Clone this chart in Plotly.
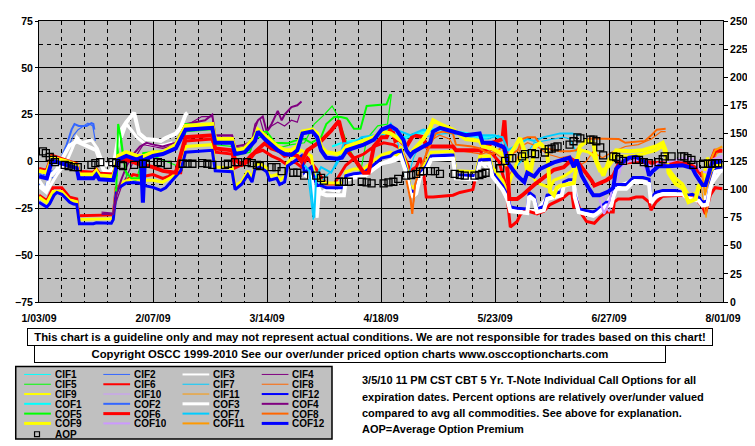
import pandas as pd
import plotly.graph_objects as go

START = "2009-01-03"
END = "2009-08-01"

# ---------------- data: (days after 1/03/09, percent) ----------------
CIF1 = [(96, 10), (100, 11), (104, 13), (108, 14), (112, 12), (116, 14), (120, 16), (124, 17), (128, 15), (132, 14), (136, 12), (140, 13)]
COF1 = [(90, 8), (93, 10), (96, 11), (100, 12), (104, 14), (108, 15), (112, 13), (116, 15), (120, 17), (124, 18), (128, 16), (132, 15), (136, 13), (140, 14), (142, 11)]
CIF2 = [(0, -12), (1.5, -15), (3, -8), (4.6, -9), (6, -4), (7.6, 3), (9.1, 8), (10.6, 14), (12, 17), (13.5, 19), (15, 20.5), (16.5, 19), (17.3, 11)]
COF2 = [(0, -6), (1.2, -8), (2.4, -4), (3.6, -5), (4.9, -6), (6.1, -3), (7.3, 4), (8.5, 9), (10, 17), (10.9, 20), (12.2, 19), (14.6, 19), (16.1, 20.5), (16.7, 20), (17, 17)]
CIF3 = [(0, -10), (2.4, -16), (5.5, -7), (8.5, 0), (10, 6), (11.6, 13), (13.1, 10), (16.1, 11.5), (17.9, 7), (19.2, 1), (20.7, -2), (22.8, -1), (24.3, 8), (26.8, 20), (28.3, 17), (30, 13), (32.8, 9), (35.9, 8), (38.9, 9), (41, 10),
        (42, None),
        (82, -4), (84, -10), (85.4, -30), (86, -18), (88, -15), (92, -16), (94.5, -8), (99.7, -6), (104, -2), (108, 1), (111, 4), (113, -8), (114.5, -19), (116, -14), (118, -3), (121, 2), (127, 2.5), (128.5, -8), (134, -8.5), (135.5, 0), (139.2, -7), (142.3, -14), (144.7, -25), (150, -26), (152.9, -26), (156, -19), (161, -12), (164.2, -10.5), (165.7, -26), (170.2, -28), (174.2, -22.5), (177.2, -13.5), (182.4, -10), (187.3, -11), (187.9, -21), (191.5, -16.5), (199.1, -18.5), (203.7, -22.5), (206.1, -13), (209.8, -4)]
COF3 = [(0, -13), (2.1, -16), (3.3, -8), (5.5, -4.4), (7.6, 3), (9.4, 8.6), (11.6, 10.7), (13.7, 9), (15.5, 8), (17.6, 6), (19.8, -4.4), (21.3, -6), (22.8, -3.4), (24.6, 15), (26.8, 21), (29.2, 26), (30.7, 15), (32.8, 12), (35.9, 11.5), (37.4, 11), (38.9, 12.5), (42, 14.9), (43.5, 18), (45, 25), (45.6, 26),
        (46, None),
        (81.5, -7), (83.6, -9), (85.1, -28), (85.7, -14), (86.6, -17), (88.2, -18), (93.6, -18), (94.2, -10), (96.7, -8.5), (99.7, -8), (102.8, -4), (105.2, -1), (107.9, 0), (109.7, 1), (111, 3), (112.8, -6), (114, -17), (114.9, -18.5), (115.8, -17), (117, -8), (118.9, -4.5), (120.4, 1), (127.1, 1.5), (128, -9), (134.1, -9.5), (135.3, -1.2), (138.3, -1), (139.2, -8), (142.3, -15), (143.8, -20), (144.7, -26.5), (149.9, -27.5), (150.5, -18.5), (152, -20.5), (152.9, -27), (155, -26), (156, -20), (160.5, -18), (161.1, -13), (164.2, -11.5), (164.5, -19), (165.7, -27), (170.2, -29), (171.2, -28), (174.2, -23.5), (175.7, -23.5), (176.3, -19), (177.2, -14.5), (180.3, -14.5), (182.4, -11), (185.4, -11), (187.3, -12), (187.9, -22), (189.4, -18.5), (191.5, -17.5), (197.6, -17.5), (199.1, -19.5), (202.5, -21), (203.7, -23.5), (205.2, -23), (206.1, -14), (207.6, -5.5), (209.8, -5)]
CIF4 = [(19.2, -27), (22.8, -27.5), (24, -20), (25.2, -14), (27.4, -6), (29.8, 3), (32, 9), (35, 8), (38, 7), (42, 9), (45, 19), (50, 24), (53.2, 24), (54.1, 13), (59.3, 13), (60.2, 7), (63.2, 8), (65.4, 12), (66.3, 20), (67.8, 23), (69.3, 14), (71.4, 19), (73.3, 21), (75.4, 19), (77.5, 22), (79.3, 21), (80, 25)]
COF4 = [(19.2, -28), (22.8, -28), (23.7, -18), (25.2, -10), (27, -2), (29, 4), (31, 8), (33, 10), (35, 9), (38, 8), (42, 10), (45, 20), (51, 22), (53.2, 25), (54.1, 14), (59.3, 14), (60.2, 8), (63.2, 9), (65.4, 11), (66.3, 18), (67.2, 22), (68.7, 24), (69.9, 16), (71.4, 20), (73.3, 27), (74.5, 22), (75.4, 25), (77.5, 29), (79.3, 30), (80.6, 32)]
CIF5 = [(24, -8), (24.6, 15), (25.5, 6), (27, -9), (29.8, -10), (31.9, 2), (35, 3), (38, 1), (42, -2), (44, -5), (45, 16), (53.2, 17), (54.1, 9), (59.3, 8), (60.2, 3), (64.8, 5), (66.3, 12), (69.9, 14), (73, 7), (77.5, 9), (81.5, 10), (84.5, 20), (87.6, 25), (90, 29.6), (91.5, 25), (94.5, 10), (98.7, -6), (100.6, 12), (104, 19), (107, 20), (108.2, 36)]
COF5 = [(23.7, -16), (24.3, 20), (25.2, 12), (26.5, -5), (28.3, -9), (30.7, -9), (32, 4.4), (35, 5), (38, 6), (40, 6), (42, 8), (45, 20), (53.2, 19), (54.1, 12), (59.3, 11), (60.2, 6), (64.8, 6), (66.3, 15), (69.9, 16), (72.4, 10), (76.3, 9.7), (78.4, 11), (81.5, 12), (83.6, 10), (86.6, 13), (88.2, 20), (90.6, 23.8), (92.7, 23.8), (94.5, 23), (96.7, 17.5), (98.7, 17.5), (100.6, 29.6), (106.7, 30.5), (107.9, 36)]
CIF6 = [(0, -18), (2.4, -21), (4.3, -14), (7, -14), (9.4, -19), (11.6, -20), (12.2, -29), (22.8, -28.5), (23.7, -14), (25.8, -12), (28.9, -7), (31.9, -8), (35, -7), (38, -9), (39.8, -8), (41, -6), (43.5, -6), (45, 11), (53.2, 12), (54.1, 5), (59.3, 4), (60.2, -3.4), (62.3, -1.8), (65.4, 4), (68.7, 6), (71.4, 3), (73.9, 1), (76.3, -2), (78.4, 0), (80.6, -3), (82.4, 2), (85.1, -4), (86.6, -8), (88.2, -12), (90.6, -12), (92.1, -8), (94.2, -2), (97, 2), (99.7, 4), (102.8, 8), (105.8, 10), (108.8, 9), (111, 7), (112.8, 0), (114, -5), (115.8, -3), (117, 2), (118, -4), (118.9, -19), (121, -19), (127.1, -18), (129.2, -16.5), (131, -16), (133.2, -15), (134.1, -8), (136.2, 8), (137.1, 6), (139.2, 4), (141.2, 0), (142.9, -10), (143.8, -20), (144.7, -35), (146.8, -32), (147.7, -28.5), (149.3, -26), (150.8, -27), (152.9, -28), (155, -26.5), (156.9, -23), (160.5, -20), (162.6, -17), (163.6, -17), (164.2, -25), (165.1, -21), (166.6, -28), (168.1, -32), (170.5, -33), (172.1, -30), (174.2, -27), (176.3, -27), (176.6, -21.7), (177.8, -20), (181.2, -20), (183.3, -19), (185.4, -19), (187.3, -21.7), (187.9, -26), (189.4, -21.7), (191.5, -18.5), (197.6, -18), (201.6, -20), (203.7, -24), (204.6, -28), (206.1, -18), (207.6, -14), (209.8, -14.5)]
COF6 = [(0, -4), (2.4, -5), (4, 3), (8.5, 0), (11.6, -1.5), (12.2, -5.5), (16.7, -6), (17.6, -4.5), (18.5, -6.5), (22.8, -7), (24.3, 0), (26.8, 1), (30, -1), (35, -3), (38, -5), (42, -6), (45, 13), (53.2, 14), (54.1, 7), (59.3, 6), (60.2, 1), (62.3, -1.8), (64.1, 0), (66.3, 5), (69.3, 9.7), (71.4, 7), (73.9, 5.5), (75.4, 3), (77.5, 4), (79.3, 3), (80.6, 0), (82.4, 6), (86.6, 11), (89.7, 16.5), (92.1, 21.7), (93, 15), (94.5, 6), (97, 1), (99.7, -6), (101.2, -6), (102.8, 8), (105.2, 13), (106.7, 13), (108.2, 18.6), (109.4, 11), (110.4, 12), (112.8, 8), (114.9, 14), (118, 13), (118.9, 8), (121.6, 8), (127.1, 8), (128, 6), (135.3, 6), (136.2, 7), (139.2, 10), (142.3, 12), (142.9, 22), (143.5, 5), (144.4, -20), (146.8, -20), (148.4, -18), (152, -12.5), (156, -7.6), (158.1, -4.4), (161.1, -3), (163.6, 1), (165.7, -1), (167.2, -4.4), (169.6, -10), (170.5, -12.8), (174.2, -10), (176.3, -7.6), (177.2, -4.4), (178.1, -0.8), (183.3, 0), (189.4, -0.8), (195.5, -0.8), (199.4, -1.5), (201.6, -3.4), (203.7, -7.6), (205.2, -9), (206.1, -0.8), (207.6, 5.7), (209.8, 5.7)]
CIF7 = [(82.4, -5), (84.2, -31), (85, -22), (86, -12), (88, -8), (91, -3), (93.6, 5), (97, 8), (101, 10), (104, 12), (106, 13), (108.5, 16), (110, 11), (111.5, 0), (113, -10), (115, 2), (118, 13), (121, 14), (125, 15), (130, 14), (134, 12), (138, 12), (141, 14), (143, 5), (145, -4), (147, -2), (149, 2), (152, 10), (155, 11), (158, 12), (161, 13), (163, 12), (165, 5)]
COF7 = [(81.5, -2), (83, -5), (84.5, -30), (85.1, -8), (86.6, -3), (89.7, -6), (92.1, 2), (93.6, 9.7), (96.7, 9.7), (99, 13), (103, 14), (105.8, 15), (108, 20), (108.8, 17), (111, 16), (114, 14), (118, 17), (121, 16), (124, 18), (127.1, 17), (130, 13), (135, 14), (139.2, 14), (142.3, 13), (144, 6), (146, 8), (149.9, 12), (152, 11), (155, 13), (160, 15), (163.6, 15), (166, 14)]
CIF8 = [(112.8, -5), (114.6, -25), (115.8, -15), (117.6, -5), (119, 6), (121, 12), (123, 14), (126, 12), (128, 6), (132, 5), (136, 4), (139, 6), (142, 2), (144, -8), (146, -3), (148, 8), (150, 10), (153, 8), (156, 4), (160, 2), (163, 3), (166, -2), (168, 0), (170, 5), (173, 2), (176, 5), (180, 8), (184, 9), (188, 12), (191, 16), (192.4, 16)]
COF8 = [(112.8, -10), (114, -20), (114.6, -28), (115.5, -12), (117, -4), (118.9, 4), (120.4, 10), (121.9, 15), (124, 16), (127.1, 15), (128, 9), (133, 8), (135.3, 7), (137.1, 5), (139.2, 4), (141, 6), (142.3, 8), (143.5, -2), (145, 4), (147, 6), (148.4, 12), (150, 13), (152.3, 13), (154, 9), (156, 7), (160, 5.5), (163, 5.5), (165, 6), (167, 10), (169, 12.3), (172, 12.3), (176, 12.3), (178, 12), (180, 10), (183, 10.5), (186, 11), (188, 14), (189.7, 17), (192.4, 17.5)]
CIF9 = [(0, -19), (2.4, -22), (4.3, -16), (7, -16), (9.4, -20.5), (11.6, -21.5), (12.2, -31), (22.8, -30.5), (23.7, -15.5), (25.8, -11), (28.9, -9), (31.9, -10), (35, -10), (38, -11), (41, -8), (43.5, -4), (45, 8), (53.2, 9), (54.1, -3), (59.3, -3.5), (60.2, -13), (62.3, -10.5), (64.1, -5), (65.4, -9), (66.3, -2), (67.8, -1), (69.9, -3.5), (70.8, -8), (73, -7), (73.9, -10), (75.4, -8), (76.3, -0.5), (78.4, 3), (80.6, 6), (83.6, 3), (84.5, -7), (86.6, -10.5), (88.2, -11.5), (93.6, -11.5), (94.2, -5.5), (96.7, -4), (99.7, -4), (102.8, 0.5), (105.2, 3.5), (107.9, 5), (110.4, 3), (111, 8), (112.8, -2), (114, -13), (114.9, -14), (115.8, -12), (117, -4), (118.9, -0.5), (120.4, 5), (127.1, 5.5), (128, -5), (134.1, -5.5), (135.3, 2.8), (138.3, 3), (139.2, -3), (142.3, -10), (143.8, -16), (144.7, -10), (146.8, 0), (149, 5), (150.8, -5), (152.3, -10), (153.8, -12), (156.9, -14), (158.1, -10), (161.1, -8), (163.6, -5), (165.1, 2), (166.6, 6), (168.7, 5), (170.2, 3), (172.1, -5), (174.8, -3), (177.2, 3), (181.2, 3), (185.4, 4), (189.4, 6), (191.5, 8), (192.4, 3), (193.3, -4), (195.5, -9), (197.6, -12), (199.4, -18), (201.6, -17), (203.7, -12), (205.2, 2), (206.7, -3), (209.8, -1)]
COF9 = [(0, -5), (2.4, -6), (4, 2), (8.5, 0), (11.6, -2), (12.2, -7), (16.7, -7), (17.6, -5), (18.5, -7.5), (22.8, -8), (24.3, 3), (26.8, 5), (30, 3), (32.5, 3), (35, 5), (38, 5), (42, 9), (45, 19), (53.2, 20), (54.1, 12), (59.3, 12), (60.2, 6), (63.2, 7), (66.3, 13), (67.2, 17), (69.3, 14), (71.4, 11), (73.3, 8), (75.4, 6), (77.5, 6), (79.3, 8), (80.9, 16), (83.9, 17), (85.4, 15), (86.6, 8), (88.2, 5), (91.5, 4), (93, 5), (94.5, 8), (99.7, 11), (102.8, 13), (105.2, 16), (107.9, 15), (109.7, 13), (111.9, 10), (112.8, 7), (114, 3), (114.9, 6), (118, 12), (120.1, 18), (121, 22), (123.1, 20), (127.1, 17), (131, 12), (135.3, 11), (136.2, 8), (139.2, 7), (142.3, 4), (142.9, 0), (143.8, -2), (144.7, 4), (146.2, 8), (147.7, 12.5), (149, 6), (149.9, -6), (150.8, -7), (152.3, 8), (153.8, 9.7), (156, 6), (156.9, -16), (158.1, -18), (159, -14), (159.9, -13), (164.2, -11.5), (165.1, 0), (166, 8), (168.1, 11), (170.2, 10), (171.2, 0), (173.3, -7.5), (175.1, 1), (177.2, 6), (181.2, 5.5), (185.4, 6), (189.4, 8), (191.5, 10), (192.4, 6), (193.3, -6), (195.5, -12), (197.6, -14), (199.4, -21.7), (201.6, -20), (202.5, -13), (204, -11.5), (205.2, 0), (206.1, -5), (207.6, -2), (209.8, -1)]
CIF10 = [(173, -18), (175, -27), (177, -15), (179, -2), (183, 1), (187, -6), (190, 0), (195, 1), (199, -1), (202, -4), (204, -10), (206, -2), (209.8, 2)]
COF10 = [(172, -20), (173.5, -28), (175, -22), (176.5, -10), (178, -4), (181, 0), (185, 1), (188, -3), (190, -1), (194, 0), (198, 2), (201, 1), (203, -5), (205, -6), (206.5, 1), (209.8, 3)]
CIF11 = [(203, -10), (204, -22), (204.8, -30), (205.8, -15), (206.8, -2), (208, 4), (209.8, 6)]
COF11 = [(203.5, -5), (204.5, -18), (205.5, -10), (206.5, 2), (207.5, 6), (209.8, 8)]
CIF12 = [(0, -21.7), (2.4, -24.3), (3.3, -22.5), (4.6, -18), (5.5, -16.5), (7, -17.5), (9.4, -21.7), (10.6, -22.7), (11.6, -23), (12.4, -33.2), (16.7, -33.2), (17.6, -32.7), (22.2, -33), (22.8, -31), (23.7, -16.5), (24.6, -13.8), (26.8, -11.5), (28.9, -11.2), (30.7, -11.5), (32.8, -13), (35, -13.8), (37.4, -15.4), (38.9, -14), (41, -9.7), (43.5, -5), (45, 5), (53.2, 6), (54.1, -5), (59.3, -5.5), (60.2, -15), (62.3, -12), (64.1, -7), (65.4, -11), (66.3, -4), (67.8, -3), (69.9, -5.5), (70.8, -10), (73, -9), (73.9, -12.3), (75.4, -11), (76.3, -2.4), (78.4, 0), (80.6, 3), (81.5, -6), (83.6, -3), (84.5, -9), (85.4, -12.8), (86.6, -12.8), (88.2, -14), (93.6, -14), (94.2, -7.6), (96.7, -6.5), (99.7, -6), (102.8, -1.8), (105.2, 1.8), (107.9, 2.9), (108.8, 4.4), (111, 6), (112.8, -4.4), (114, -15), (114.9, -16.5), (115.8, -15), (117, -6), (118.9, -2.4), (120.4, 2.9), (127.1, 3.4), (128, -7.1), (134.1, -7.6), (135.3, 0.8), (138.3, 1.2), (139.2, -6), (142.3, -12.8), (143.8, -18), (144.7, -24.3), (146.8, -25), (149.9, -25.3), (150.5, -16.5), (152, -18.5), (152.9, -25.3), (155, -24), (156, -18), (158.1, -17.5), (160.5, -16), (161.1, -11), (162.6, -9.7), (164.2, -9.7), (164.5, -17), (165.7, -25.3), (167.2, -26), (170.2, -26.9), (171.2, -26), (174.2, -21.7), (175.7, -21.7), (176.3, -17), (177.2, -12.3), (180.3, -12.3), (182.4, -8.6), (185.4, -8.6), (187.3, -9.5), (187.9, -20), (189.4, -16.5), (191.5, -15.5), (195.5, -15.5), (197.6, -16.5), (199.1, -18), (200.6, -17.5), (202.5, -19), (203.7, -21.7), (205.2, -21), (206.1, -12), (207.6, -3.5), (209.8, -3)]
COF12 = [(0, -8), (2.4, -9), (4, 0.5), (8.5, -2), (11.6, -3.5), (12.2, -9), (16.7, -9), (17.6, -7), (18.5, -9.5), (22.8, -10), (24.3, 1), (26.8, 3), (30, 1), (31.3, 2), (31.9, -22), (32.5, 1), (35, 3), (38, 4), (42, 7), (45, 17), (53.2, 18), (54.1, 10), (59.3, 10), (60.2, 4), (63.2, 5), (66.3, 11), (67.2, 16), (69.3, 12), (71.4, 9), (73.3, 6), (75.4, 4), (77.5, 3.5), (79.3, 6), (80.9, 15), (83.9, 16), (85.4, 13), (86.6, 6), (88.2, 2), (91.5, 1.5), (93, 2), (94.5, 6), (99.7, 9), (102.8, 11.6), (105.2, 17), (107.9, 19), (109.7, 17), (111.9, 11.6), (112.8, 6), (114, 3), (114.9, 5), (118, 8), (120.1, 10), (121, 16), (123.1, 18), (127.1, 16), (131, 14), (135.3, 15), (136.2, 10), (139.2, 10), (142.3, 8), (142.9, 7), (143.8, -0.5), (146.8, -7.5), (149, -11), (149.9, -6), (152, -8), (153.8, -4), (156, -2.4), (158.1, -0.5), (162.9, 2), (164.2, -3), (165.1, 1), (166.6, -7.5), (168.7, -14), (170.2, -18), (172.1, -18), (174.8, -16), (176.3, -14), (177.2, -4), (179.4, 0), (181.2, 2), (183.3, 2.5), (186.4, -0.5), (187.3, -7.5), (188.5, -5), (190.3, -2.4), (193.3, -2.5), (197.6, -2), (200.6, -3.5), (201.6, -7), (203.7, -12.5), (204.6, -12.5), (205.5, -7), (206.7, -0.5), (209.8, 0)]

# Average Option Premium (right axis)
AOP = [(1.2, 134), (2.1, 132.5), (3.3, 129), (4.3, 126.5), (4.9, 124.5), (7.9, 122), (9.1, 121), (10.6, 120), (11.9, 120), (16.1, 122), (17.3, 123.5), (18.8, 124.5), (22.5, 124.5), (23.7, 123.5), (25.2, 122), (25.8, 121), (29.2, 122), (31.9, 123), (32.8, 123), (36.5, 124.5), (37.4, 123.5), (39.5, 122), (44.1, 123), (45.6, 123), (47.1, 123), (50.1, 123.5), (51.7, 123), (53.2, 122), (57.1, 122), (58, 123), (60.2, 124.5), (61.1, 124.5), (63.8, 124.5), (65.3, 123.5), (66.9, 122), (67.8, 121), (71.4, 120), (72.9, 120), (74.5, 116.5), (78.1, 115), (79.3, 115), (81.4, 112.5), (85.1, 112.5), (86.6, 110.5), (87.5, 108), (92.1, 107), (93.6, 107), (95.1, 107), (99.1, 107), (100.6, 106.5), (102.1, 105.5), (105.8, 105.5), (107.3, 106.5), (108.8, 107), (110.3, 109.5), (112.7, 112.5), (114.3, 113), (115.8, 114), (117, 116), (117.9, 116.5), (120.3, 116.5), (121.6, 116.5), (123.1, 114), (127.6, 114), (129.2, 113), (130.7, 112.5), (133.7, 112.5), (135.2, 113), (136.1, 114), (137.1, 115), (141.6, 119), (143.1, 125.5), (144.4, 128), (145.3, 128), (148.3, 129.5), (149.2, 131.5), (151.3, 132.5), (152.3, 131.5), (155.3, 133), (156.5, 136), (157.4, 136.5), (158.3, 137.5), (159.2, 138.5), (162.9, 140), (164.1, 143), (165.3, 146.5), (166.2, 145.5), (169.3, 144.5), (170.2, 144.5), (171.1, 143), (172.3, 137.5), (173.2, 130.5), (176.3, 129.5), (177.2, 129), (178.1, 127), (179.3, 125.5), (183.3, 126.5), (184.2, 126.5), (185.7, 124.5), (187.2, 123.5), (190.2, 124.5), (191.5, 127), (192.1, 129.5), (194.2, 129.5), (197.2, 129.5), (198.1, 129.5), (199.1, 128), (200.3, 126.5), (200.9, 122), (203.9, 123), (205.4, 123), (206.6, 123), (207.6, 123.5), (208.5, 123.5)]

SERIES = {
    "CIF1": CIF1, "CIF2": CIF2, "CIF3": CIF3, "CIF4": CIF4, "CIF5": CIF5, "CIF6": CIF6,
    "CIF7": CIF7, "CIF8": CIF8, "CIF9": CIF9, "CIF10": CIF10, "CIF11": CIF11, "CIF12": CIF12,
    "COF1": COF1, "COF2": COF2, "COF3": COF3, "COF4": COF4, "COF5": COF5, "COF6": COF6,
    "COF7": COF7, "COF8": COF8, "COF9": COF9, "COF10": COF10, "COF11": COF11, "COF12": COF12,
}
MONTH_COLORS = {1: "#00FFFF", 2: "#3366FF", 3: "#FFFFFF", 4: "#800080", 5: "#00FF00", 6: "#FF0000",
                7: "#00CCFF", 8: "#FF6600", 9: "#FFFF00", 10: "#CC99FF", 11: "#FF9900", 12: "#0000FF"}
THICK = {3, 6, 9, 12}

DISCLAIMER = "This chart is a guideline only and may not represent actual conditions. We are not responsible for trades based on this chart!"
COPYRIGHT = "Copyright OSCC 1999-2010 See our over/under priced option charts www.osccoptioncharts.com"
NOTE_LINES = ["3/5/10 11 PM CST CBT 5 Yr. T-Note Individual Call Options for all",
              "expiration dates. Percent options are relatively over/under valued",
              "compared to avg all commodities. See above for explanation.",
              "AOP=Average Option Premium"]

# ---------------- figure ----------------
BASE = pd.Timestamp(START)
DAY_MS = 86400000


def to_xy(pairs):
    xs = [BASE + pd.Timedelta(days=d) for d, _ in pairs]
    ys = [v for _, v in pairs]
    return xs, ys


def style(name):
    m = int(name[3:])
    kind = name[:3]
    if kind == "CIF":
        w = 3 if m in THICK else 1.2
        lw = 2 if m in THICK else 1
    else:
        w = 4 if m in THICK else 2
        lw = 3 if m in THICK else 2
    return MONTH_COLORS[m], w, lw


fig = go.Figure()
for name, pairs in SERIES.items():
    col, w, _ = style(name)
    xs, ys = to_xy(pairs)
    fig.add_trace(go.Scatter(x=xs, y=ys, mode="lines", name=name,
                             line=dict(color=col, width=w), hoverinfo="skip", showlegend=False))

ax, ay = to_xy(AOP)
fig.add_trace(go.Scatter(x=ax, y=ay, yaxis="y2", mode="markers", name="AOP",
                         marker=dict(symbol="square-open", size=7, color="black", line=dict(width=1.3)),
                         hoverinfo="skip", showlegend=False))

# The page body adds an 8px margin, so the figure is drawn 8px smaller
# and every screen position below is expressed in window pixels.
OFF = 8
W, H = 755 - OFF, 446 - OFF
PLOT_L, PLOT_R, PLOT_T, PLOT_B = 32, 723, 15, 302          # window pixels
ML, MT = PLOT_L - OFF, PLOT_T - OFF
MR, MB = W - (PLOT_R - OFF), H - (PLOT_B - OFF)
PW, PH = PLOT_R - PLOT_L, PLOT_B - PLOT_T


def fx(px):
    return (px - PLOT_L) / PW


def fy(py):
    return (PLOT_B - py) / PH


FONT = "Arial"
bold = dict(family=FONT, size=10.5, color="black", weight="bold")
box_font = dict(family=FONT, size=11.3, color="black", weight="bold")
text_font = dict(family=FONT, size=11, color="black", weight="bold")

fig.update_layout(
    width=W, height=H, margin=dict(l=ML, r=MR, t=MT, b=MB, pad=0),
    paper_bgcolor="white", plot_bgcolor="#C0C0C0", showlegend=False,
    font=dict(family=FONT, size=10.5, color="black"),
    xaxis=dict(type="date", range=[START, END], tick0=START, dtick=35 * DAY_MS, tickformat="%-m/%d/%y",
               showgrid=True, gridcolor="black", gridwidth=1, zeroline=False,
               showline=True, linecolor="black", linewidth=1, mirror=True,
               ticks="", tickfont=bold, ticklabelstandoff=6,
               minor=dict(tick0=START, dtick=7 * DAY_MS, showgrid=True, gridcolor="black",
                          griddash="4px,4px", gridwidth=1),
               fixedrange=True),
    yaxis=dict(range=[-75, 75], tick0=0, dtick=25, showgrid=True, gridcolor="black", gridwidth=1,
               zeroline=False, showline=True, linecolor="black", linewidth=1,
               ticks="outside", ticklen=3, tickcolor="black", tickfont=bold,
               minor=dict(tick0=0, dtick=12.5, showgrid=True, gridcolor="black", griddash="4px,4px", gridwidth=1),
               fixedrange=True),
    yaxis2=dict(range=[0, 250], tick0=0, dtick=25, overlaying="y", side="right", showgrid=False,
                zeroline=False, showline=True, linecolor="black", linewidth=1,
                ticks="outside", ticklen=4, tickcolor="black", tickfont=bold, fixedrange=True),
)

annotations = []
shapes = []
# disclaimer boxes
annotations.append(dict(text=DISCLAIMER, xref="paper", yref="paper", x=fx(366.2), y=fy(338),
                        xanchor="center", yanchor="middle", showarrow=False, font=box_font,
                        bordercolor="black", borderwidth=1, borderpad=0, bgcolor="white",
                        width=684, height=16))
annotations.append(dict(text=COPYRIGHT, xref="paper", yref="paper", x=fx(346.5), y=fy(355.5),
                        xanchor="center", yanchor="middle", showarrow=False, font=box_font,
                        bordercolor="black", borderwidth=1, borderpad=0, bgcolor="white",
                        width=630, height=16))
# note block
for i, line in enumerate(NOTE_LINES):
    annotations.append(dict(text=line, xref="paper", yref="paper", x=fx(356), y=fy(382 + 16.7 * i),
                            xanchor="left", yanchor="middle", showarrow=False, font=text_font))

# legend box
shapes.append(dict(type="rect", xref="paper", yref="paper", x0=fx(8.5), x1=fx(328), y0=fy(368), y1=fy(442),
                   fillcolor="#C0C0C0", line=dict(color="black", width=1.5), layer="above"))
leg_font = dict(family=FONT, size=10, color="black", weight="bold")
for c in range(4):
    col_names = [f"CIF{c + 1}", f"CIF{c + 5}", f"CIF{c + 9}", f"COF{c + 1}", f"COF{c + 5}", f"COF{c + 9}"]
    for r, name in enumerate(col_names):
        color, _, lw = style(name)
        yy = 376 + 10 * r
        shapes.append(dict(type="line", xref="paper", yref="paper", x0=fx(17 + 80 * c), x1=fx(44 + 80 * c),
                           y0=fy(yy), y1=fy(yy), line=dict(color=color, width=lw), layer="above"))
        annotations.append(dict(text=name, xref="paper", yref="paper", x=fx(46 + 80 * c), y=fy(yy),
                                xanchor="left", yanchor="middle", showarrow=False, font=leg_font,
                                height=10))
shapes.append(dict(type="rect", xref="paper", yref="paper", x0=fx(27.5), x1=fx(32.5), y0=fy(434.5), y1=fy(439.5),
                   line=dict(color="black", width=1.2), fillcolor="rgba(0,0,0,0)", layer="above"))
annotations.append(dict(text="AOP", xref="paper", yref="paper", x=fx(46), y=fy(437),
                        xanchor="left", yanchor="middle", showarrow=False, font=leg_font, height=10))

fig.update_layout(annotations=annotations, shapes=shapes)
fig.write_html("out.html")
